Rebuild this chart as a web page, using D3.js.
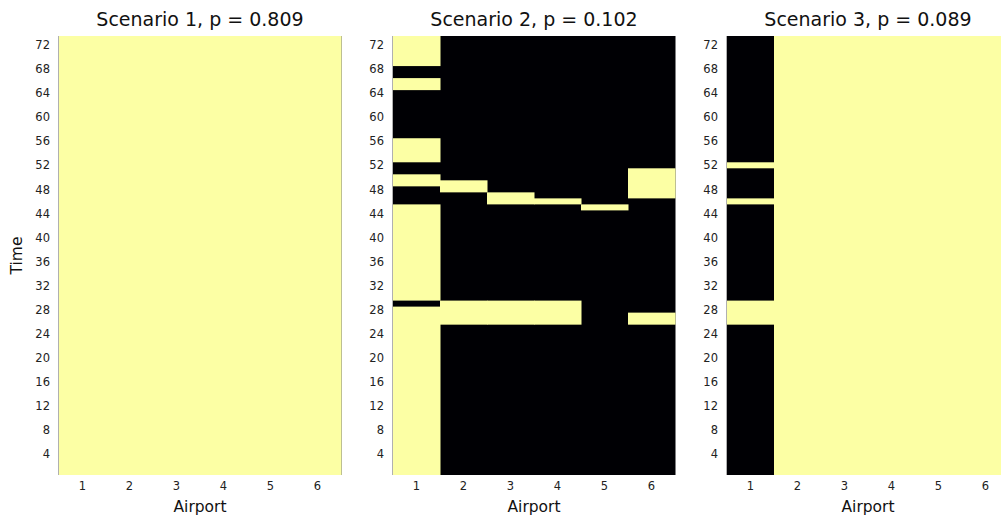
<!DOCTYPE html>
<html>
<head>
<meta charset="utf-8">
<script src="https://cdn.jsdelivr.net/npm/d3@7"></script>
<style>
  body { margin: 0; background: #fff; }
  svg { display: block; font-family: "DejaVu Sans", sans-serif; }
  .tick line { display: none; }
  .domain { display: none; }
</style>
</head>
<body>
<svg id="chart" width="1001" height="522"></svg>
<script>
// airports and time steps
const airports = [1, 2, 3, 4, 5, 6];
const times = d3.range(1, 74);
const timeTicks = [4, 8, 12, 16, 20, 24, 28, 32, 36, 40, 44, 48, 52, 56, 60, 64, 68, 72];

const titles = ['Scenario 1, p = 0.809', 'Scenario 2, p = 0.102', 'Scenario 3, p = 0.089'];

// yellow (state 1) time runs per airport, [from, to]; everything else is black (state 0)
const scenario1 = [
  [[1, 73]], [[1, 73]], [[1, 73]], [[1, 73]], [[1, 73]], [[1, 73]]
];
const scenario2 = [
  [[1, 28], [30, 45], [49, 50], [53, 56], [65, 66], [69, 73]],
  [[26, 29], [48, 49]],
  [[26, 29], [46, 47]],
  [[26, 29], [46, 46]],
  [[45, 45]],
  [[26, 27], [47, 51]]
];
const scenario3 = [
  [[26, 29], [46, 46], [52, 52]],
  [[1, 73]], [[1, 73]], [[1, 73]], [[1, 73]], [[1, 73]]
];
const scenarios = [scenario1, scenario2, scenario3];

const colOff = '#000004';
const colOn = '#fcffa4';

const svg = d3.select('#chart');
const panelLeft = [59, 393, 727];
const panelW = 282;
const plotTop = 36, plotBottom = 475;

const y = d3.scaleLinear().domain([0.5, 73.5]).range([plotBottom, plotTop]);

scenarios.forEach((sc, k) => {
  const x = d3.scaleBand().domain(airports).range([panelLeft[k], panelLeft[k] + panelW]);
  const g = svg.append('g');

  // background column = state 0
  g.selectAll('rect.off')
    .data(airports)
    .join('rect')
    .attr('class', 'off')
    .attr('x', d => x(d))
    .attr('width', x.bandwidth() + 0.5)
    .attr('y', y(times[times.length - 1] + 0.5))
    .attr('height', y(times[0] - 0.5) - y(times[times.length - 1] + 0.5))
    .attr('fill', colOff);

  const runs = sc.flatMap((r, i) => r.map(([a, b]) => ({ airport: airports[i], a, b })));
  g.selectAll('rect.on')
    .data(runs)
    .join('rect')
    .attr('class', 'on')
    .attr('x', d => x(d.airport))
    .attr('width', x.bandwidth() + 0.5)
    .attr('y', d => y(d.b + 0.5))
    .attr('height', d => y(d.a - 0.5) - y(d.b + 0.5))
    .attr('fill', colOn);

  // left border
  g.append('line')
    .attr('x1', panelLeft[k] - 0.5).attr('x2', panelLeft[k] - 0.5)
    .attr('y1', plotTop).attr('y2', plotBottom)
    .attr('stroke', '#b0b0b0');

  // axes
  g.append('g')
    .attr('transform', `translate(0,${plotBottom})`)
    .call(d3.axisBottom(x).tickSize(0).tickPadding(7))
    .call(a => a.selectAll('text').attr('font-size', 11.5).attr('fill', '#222').attr('font-family', 'DejaVu Sans'));

  g.append('g')
    .attr('transform', `translate(${panelLeft[k]},0)`)
    .call(d3.axisLeft(y).tickValues(timeTicks).tickSize(0).tickPadding(9))
    .call(a => a.selectAll('text').attr('font-size', 11.5).attr('fill', '#222').attr('font-family', 'DejaVu Sans'));

  g.append('text')
    .attr('x', panelLeft[k] + panelW / 2)
    .attr('y', 26)
    .attr('text-anchor', 'middle')
    .attr('font-size', 19)
    .attr('fill', '#111')
    .text(titles[k]);

  g.append('text')
    .attr('x', panelLeft[k] + panelW / 2)
    .attr('y', 512)
    .attr('text-anchor', 'middle')
    .attr('font-size', 15.5)
    .attr('fill', '#111')
    .text('Airport');
});

svg.append('text')
  .attr('transform', `translate(22,${(plotTop + plotBottom) / 2}) rotate(-90)`)
  .attr('text-anchor', 'middle')
  .attr('font-size', 15.5)
  .attr('fill', '#111')
  .text('Time');
</script>
</body>
</html>
